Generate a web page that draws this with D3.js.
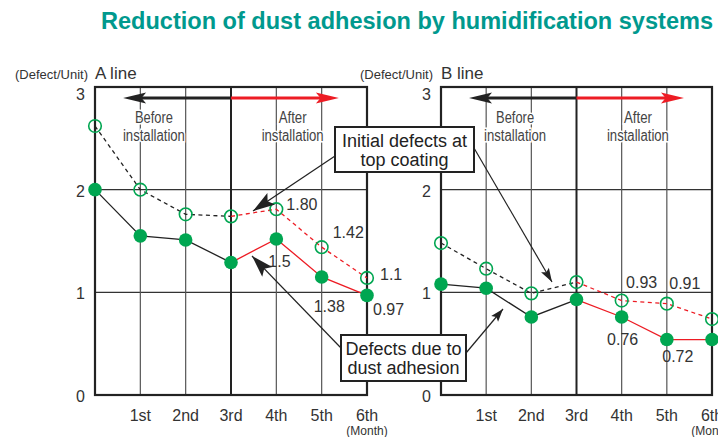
<!DOCTYPE html>
<html>
<head>
<meta charset="utf-8">
<script src="https://cdn.jsdelivr.net/npm/d3@7"></script>
<style>
  body { margin: 0; background: #fff; }
  svg { display: block; }
  text { font-family: "Liberation Sans", Arial, sans-serif; }
</style>
</head>
<body>
<svg id="chart" width="718" height="437"></svg>
<script>
// month categories (index 0 = start, before the 1st month)
const months = ["", "1st", "2nd", "3rd", "4th", "5th", "6th"];
const yTicks = [0, 1, 2, 3];

// A line
const aInitial = [2.62, 2.0, 1.76, 1.74, 1.81, 1.44, 1.14];
const aDust = [2.0, 1.55, 1.51, 1.29, 1.52, 1.15, 0.97];
const aInitialLabels = [null, null, null, null, "1.80", "1.42", "1.1"];
const aDustLabels = [null, null, null, null, "1.5", "1.38", "0.97"];

// B line
const bInitial = [1.48, 1.23, 0.99, 1.10, 0.92, 0.89, 0.74];
const bDust = [1.08, 1.04, 0.76, 0.93, 0.76, 0.54, 0.54];
const bInitialLabels = [null, null, null, null, "0.93", "0.91", null];
const bDustLabels = [null, null, null, null, "0.76", "0.72", null];

const GREEN = "#00a651", RED = "#ed1c24", INK = "#222", TXT = "#333";

const svg = d3.select("#chart");

// titre
svg.append("text")
    .attr("x", 101).attr("y", 29)
    .attr("textLength", 612).attr("lengthAdjust", "spacingAndGlyphs")
    .attr("font-size", 23).attr("font-weight", "bold")
    .attr("fill", "#00998e")
    .text("Reduction of dust adhesion by humidification systems");

// petite fonction pour une pointe de flèche pleine
function arrowHead(g, tip, from, len, hw, color) {
    const dx = tip[0] - from[0], dy = tip[1] - from[1];
    const L = Math.hypot(dx, dy), ux = dx / L, uy = dy / L;
    const bx = tip[0] - ux * len, by = tip[1] - uy * len;
    const pts = [
        tip,
        [bx - uy * hw, by + ux * hw],
        [bx + ux * len * 0.2, by + uy * len * 0.2],
        [bx + uy * hw, by - ux * hw]
    ];
    g.append("path").attr("d", "M" + pts.join("L") + "Z").attr("fill", color);
}

function drawPanel(p) {
    const x = d3.scaleLinear().domain([0, 6]).range([p.left, p.right]);
    const y = d3.scaleLinear().domain([0, 3]).range([395, 87]);
    const g = svg.append("g");

    // grille
    g.selectAll(".hgrid").data([1, 2]).join("line").attr("class", "hgrid")
        .attr("x1", x(0)).attr("x2", x(6))
        .attr("y1", d => y(d)).attr("y2", d => y(d))
        .attr("stroke", "#333").attr("stroke-width", 1.2);
    g.selectAll(".vgrid").data([1, 2, 4, 5]).join("line").attr("class", "vgrid")
        .attr("x1", d => x(d)).attr("x2", d => x(d))
        .attr("y1", y(0)).attr("y2", y(3))
        .attr("stroke", "#555").attr("stroke-width", 1.2);
    g.append("line")
        .attr("x1", x(3)).attr("x2", x(3)).attr("y1", y(0)).attr("y2", y(3))
        .attr("stroke", INK).attr("stroke-width", 2);
    g.append("rect")
        .attr("x", x(0)).attr("y", y(3))
        .attr("width", x(6) - x(0)).attr("height", y(0) - y(3))
        .attr("fill", "none").attr("stroke", INK).attr("stroke-width", 2.2);

    // axe y
    g.selectAll(".ytick").data(yTicks).join("text").attr("class", "ytick")
        .attr("x", x(0) - 10)
        .attr("y", d => d === 3 ? y(d) + 13 : y(d) + 7)
        .attr("text-anchor", "end").attr("font-size", 16).attr("fill", TXT)
        .text(d => d);

    // axe x
    g.selectAll(".xtick").data(months).join("text").attr("class", "xtick")
        .attr("x", (d, i) => x(i)).attr("y", 421)
        .attr("text-anchor", "middle").attr("font-size", 16).attr("fill", TXT)
        .text(d => d);
    g.append("text").attr("x", x(6)).attr("y", 435)
        .attr("text-anchor", "middle").attr("font-size", 12).attr("fill", TXT)
        .text("(Month)");

    g.append("text").attr("x", p.unitX).attr("y", 79)
        .attr("font-size", 13).attr("fill", TXT).text("(Defect/Unit)");
    g.append("text").attr("x", x(0)).attr("y", 79)
        .attr("font-size", 17).attr("fill", TXT).text(p.name);

    // flèches avant / après
    const ay = 98;
    g.append("line").attr("x1", x(3)).attr("x2", x(0.62) + 18).attr("y1", ay).attr("y2", ay)
        .attr("stroke", INK).attr("stroke-width", 3.2);
    arrowHead(g, [x(0.62), ay], [x(3), ay], 23, 5.5, INK);
    g.append("line").attr("x1", x(3)).attr("x2", x(5.38) - 18).attr("y1", ay).attr("y2", ay)
        .attr("stroke", RED).attr("stroke-width", 3.2);
    arrowHead(g, [x(5.38), ay], [x(3), ay], 23, 5.5, RED);

    [["Before", p.beforeAt], ["After", 4.36]].forEach(([w, c]) => {
        const t = g.append("text").attr("text-anchor", "middle").attr("font-size", 16)
            .attr("fill", "#444").attr("stroke", "#fff").attr("stroke-width", 3)
            .attr("paint-order", "stroke");
        t.append("tspan").attr("x", x(c)).attr("y", 123)
            .attr("textLength", w === "Before" ? 38 : 28).attr("lengthAdjust", "spacingAndGlyphs").text(w);
        t.append("tspan").attr("x", x(c)).attr("y", 141)
            .attr("textLength", 62).attr("lengthAdjust", "spacingAndGlyphs").text("installation");
    });

    // séries
    const line = d3.line();
    const series = [
        { vals: p.initial, dash: "4,3.5" },
        { vals: p.dust, dash: null }
    ];
    series.forEach(s => {
        const pts = s.vals.map((v, i) => [x(i), y(v)]);
        [[pts.slice(0, 4), INK], [pts.slice(3), RED]].forEach(([seg, col]) => {
            g.append("path").attr("d", line(seg)).attr("fill", "none")
                .attr("stroke", col).attr("stroke-width", 1.3)
                .attr("stroke-dasharray", s.dash);
        });
    });
    g.selectAll(".open").data(p.initial).join("circle").attr("class", "open")
        .attr("cx", (d, i) => x(i)).attr("cy", d => y(d)).attr("r", 6.3)
        .attr("fill", "none").attr("stroke", GREEN).attr("stroke-width", 1.6);
    g.selectAll(".dot").data(p.dust).join("circle").attr("class", "dot")
        .attr("cx", (d, i) => x(i)).attr("cy", d => y(d)).attr("r", 6.8)
        .attr("fill", GREEN);

    // étiquettes de valeurs
    [[p.initial, p.initialLabels, p.initialOff], [p.dust, p.dustLabels, p.dustOff]].forEach(([vals, labs, off]) => {
        labs.forEach((t, i) => {
            if (!t) return;
            const o = off[i];
            g.append("text").attr("x", x(i) + o[0]).attr("y", y(vals[i]) + o[1])
                .attr("text-anchor", o[2] || "start")
                .attr("font-size", 16).attr("fill", TXT).text(t);
        });
    });
}

drawPanel({
    name: "A line", left: 95, right: 367, unitX: 15, beforeAt: 1.3,
    initial: aInitial, dust: aDust,
    initialLabels: aInitialLabels, dustLabels: aDustLabels,
    initialOff: { 4: [10, 1], 5: [11, -9], 6: [13, 2] },
    dustOff: { 4: [-8, 28], 5: [-8, 35], 6: [6, 20] }
});
drawPanel({
    name: "B line", left: 441, right: 712, unitX: 360, beforeAt: 1.64,
    initial: bInitial, dust: bDust,
    initialLabels: bInitialLabels, dustLabels: bDustLabels,
    initialOff: { 4: [20, -13, "middle"], 5: [18, -15, "middle"] },
    dustOff: { 4: [1, 28, "middle"], 5: [11, 22, "middle"] }
});

// bulles d'annotation
const notes = svg.append("g");
const callouts = [
    { box: [335, 127, 139, 45], lines: ["Initial defects at", "top coating"],
      arrows: [[[335, 156], [253, 211], 22, 7], [[474, 148], [552, 282], 14, 4.5]] },
    { box: [341, 335, 125, 46], lines: ["Defects due to", "dust adhesion"],
      arrows: [[[341, 348], [252, 256], 22, 7], [[466, 353], [503, 309], 13, 4.5]] }
];
callouts.forEach(c => {
    c.arrows.forEach(([from, tip, len, hw]) => {
        notes.append("line").attr("x1", from[0]).attr("y1", from[1])
            .attr("x2", tip[0]).attr("y2", tip[1])
            .attr("stroke", INK).attr("stroke-width", 1.2);
        arrowHead(notes, tip, from, len, hw, INK);
    });
    const [bx, by, bw, bh] = c.box;
    notes.append("rect").attr("x", bx).attr("y", by).attr("width", bw).attr("height", bh)
        .attr("fill", "#fff").attr("stroke", INK).attr("stroke-width", 2);
    c.lines.forEach((t, k) => {
        notes.append("text").attr("x", bx + bw / 2).attr("y", by + 20 + k * 19)
            .attr("text-anchor", "middle").attr("font-size", 18).attr("fill", INK).text(t);
    });
});
</script>
</body>
</html>
